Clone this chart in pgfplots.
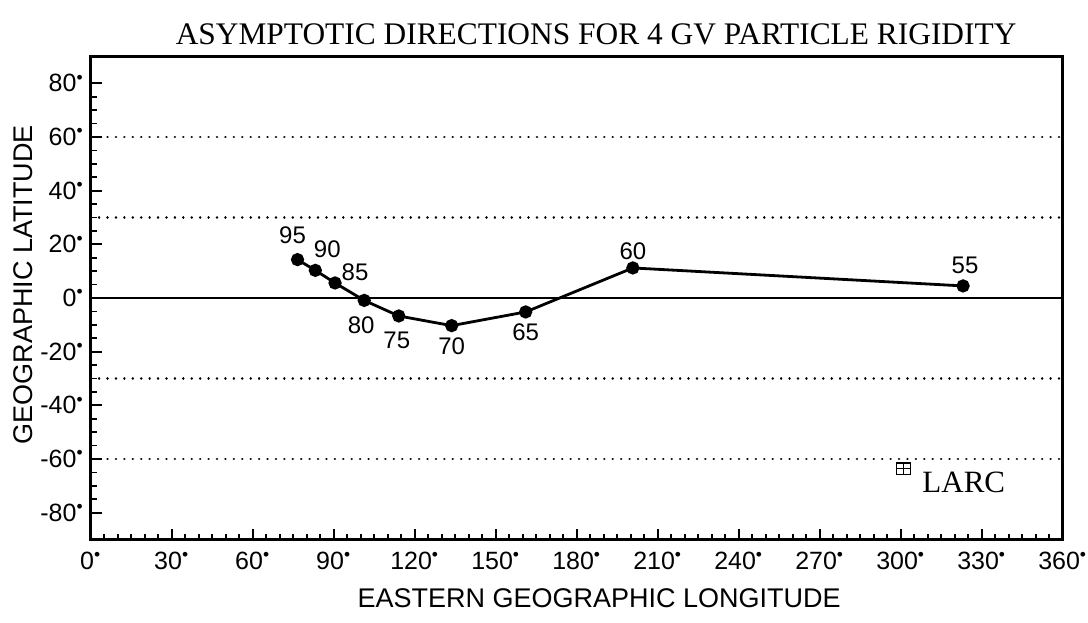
\documentclass[border=0pt]{standalone}
\usepackage{fontspec}
\setmainfont{Liberation Sans}
\newfontfamily\serif{Liberation Serif}
\usepackage{pgfplots}
\pgfplotsset{compat=1.18}
\newcommand{\dg}{\textsuperscript{\textbullet}}
\begin{document}
\begin{tikzpicture}
\begin{axis}[
  name=ax,
  width=486pt, height=241.5pt, scale only axis,
  xmin=0, xmax=360, ymin=-90, ymax=90,
  xtick={0,30,...,360},
  xticklabels={0\dg,30\dg,60\dg,90\dg,120\dg,150\dg,180\dg,210\dg,240\dg,270\dg,300\dg,330\dg,360\dg},
  ytick={-80,-60,...,80},
  yticklabels={-80\dg,-60\dg,-40\dg,-20\dg,0\dg,20\dg,40\dg,60\dg,80\dg},
  minor x tick num=5, minor y tick num=3,
  tick align=inside, xtick pos=bottom, ytick pos=left,
  major tick length=5.5pt, minor tick length=3pt,
  tick style={line width=0.9pt, black},
  axis line style={line width=1.3pt},
  ticklabel style={font=\fontsize{12.5}{13}\selectfont},
  xticklabel style={yshift=-2.5pt},
  extra y ticks={-60,-30,30,60},
  extra y tick labels={},
  extra y tick style={grid=major, major tick length=0pt,
     grid style={black, line width=1.3pt, dash pattern=on 0.01pt off 4.2pt, line cap=round}},
  title={ASYMPTOTIC DIRECTIONS FOR 4 GV PARTICLE RIGIDITY},
  title style={font=\serif\fontsize{15.7}{16}\selectfont, at={(axis description cs:0.52,1.0)}, anchor=base},
  xlabel={EASTERN GEOGRAPHIC LONGITUDE},
  xlabel style={font=\fontsize{13.5}{14}\selectfont, at={(axis description cs:0.523,-0.1205)}, anchor=center},
  ylabel={GEOGRAPHIC LATITUDE},
  ylabel style={font=\fontsize{13.5}{14}\selectfont, at={(axis description cs:-0.069,0.527)}, anchor=center, rotate=0},
  clip=false,
]
\addplot[black, line width=0.7pt] coordinates {(0,0) (360,0)};
\addplot[black, line width=1.4pt, mark=*, mark size=2.6pt] coordinates {
 (76.6,14.3) (83.2,10.3) (90.5,5.6) (101.3,-0.9) (114.1,-6.7)
 (133.7,-10.3) (161.1,-5.2) (200.8,11.2) (323.1,4.5)};
\addplot[black, only marks, mark=square, mark size=2.8pt, mark options={line width=0.6pt, xscale=1.2}] coordinates {(301,-63.6)};
\addplot[black, only marks, mark=+, mark size=2.8pt, mark options={line width=0.6pt, xscale=1.2}] coordinates {(301,-63.6)};
\begin{scope}[every node/.style={font=\fontsize{12}{12}\selectfont}]
\node[xshift=-2.5pt, yshift=12pt] at (axis cs:76.6,14.3) {95};
\node[xshift=6pt, yshift=10.5pt] at (axis cs:83.2,10.3) {90};
\node[xshift=10pt, yshift=5.5pt] at (axis cs:90.5,5.6) {85};
\node[xshift=-1.5pt, yshift=-12.5pt] at (axis cs:101.3,-0.9) {80};
\node[xshift=-1pt, yshift=-12pt] at (axis cs:114.1,-6.7) {75};
\node[yshift=-10.5pt] at (axis cs:133.7,-10.3) {70};
\node[yshift=-10pt] at (axis cs:161.1,-5.2) {65};
\node[yshift=8.5pt] at (axis cs:200.8,11.2) {60};
\node[xshift=1pt, yshift=10.5pt] at (axis cs:323.1,4.5) {55};
\end{scope}
\node[anchor=west, font=\serif\fontsize{15.5}{16}\selectfont, xshift=6pt, yshift=-7pt] at (axis cs:301,-63.6) {LARC};
\end{axis}
\pgfresetboundingbox
\path ([shift={(-45.35pt,-41.25pt)}]ax.south west) rectangle ([shift={(498.65pt,269.75pt)}]ax.south west);
\end{tikzpicture}
\end{document}
